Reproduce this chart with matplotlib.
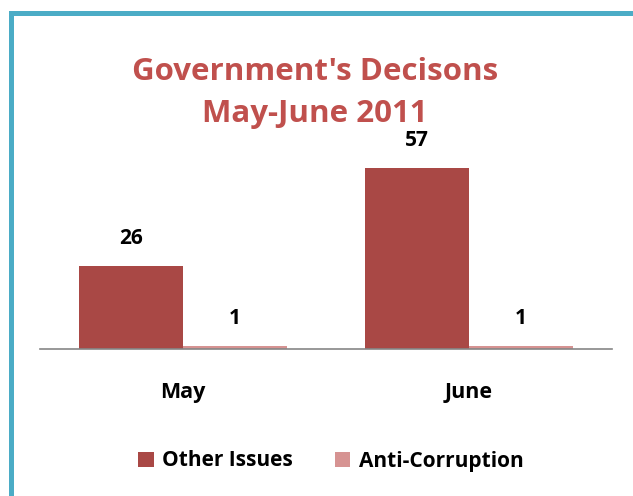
import numpy as np
import matplotlib.pyplot as plt
from matplotlib.patches import Rectangle

months = ['May', 'June']
other_issues = [26, 57]
anti_corruption = [1, 1]
series_names = ['Other Issues', 'Anti-Corruption']
colors = ['#A94845', '#D69392']

W, H = 633, 496
fig = plt.figure(figsize=(W / 100, H / 100), dpi=100)
plt.rcParams['font.family'] = ['Open Sans', 'DejaVu Sans']

# teal frame running off the right and bottom edges
fig.patches.append(Rectangle((10.5 / W, -0.1), 1.2, 1 - 13 / H + 0.1,
                             transform=fig.transFigure, fill=False,
                             edgecolor='#4BACC6', linewidth=3.6))

ax = fig.add_axes([40 / W, 1 - 349 / H, (612 - 40) / W, (349 - 100) / H])
x = np.arange(len(months))
w = 0.364
b1 = ax.bar(x - w / 2, other_issues, w, color=colors[0], label=series_names[0])
b2 = ax.bar(x + w / 2, anti_corruption, w, color=colors[1], label=series_names[1])

for bars in (b1, b2):
    for r in bars:
        ax.text(r.get_x() + r.get_width() / 2, r.get_height() + 5.3, str(int(r.get_height())),
                ha='center', va='bottom', fontsize=15, fontweight='bold', color='black')

ax.set_xlim(-0.5, 1.5)
ax.set_ylim(0, 78.3)
ax.set_xticks(x)
ax.set_xticklabels(months, fontsize=15.5, fontweight='bold')
ax.tick_params(axis='x', length=0, pad=24)
ax.set_yticks([])
for s in ['top', 'right', 'left']:
    ax.spines[s].set_visible(False)
ax.spines['bottom'].set_color('#868686')
ax.spines['bottom'].set_linewidth(1.2)

fig.text(315 / W, 1 - 72 / H, "Government's Decisons", ha='center', va='center',
         fontsize=22.5, fontweight='bold', color='#C0504D')
fig.text(315 / W, 1 - 114 / H, "May-June 2011", ha='center', va='center',
         fontsize=22.5, fontweight='bold', color='#C0504D')

fig.legend(loc='center', bbox_to_anchor=(331 / W, 1 - 461 / H), ncol=2, frameon=False,
           prop={'size': 15, 'weight': 'bold'}, handlelength=0.75, handleheight=0.75,
           handletextpad=0.4, columnspacing=2.0)

fig.savefig('out.png', dpi=100)
